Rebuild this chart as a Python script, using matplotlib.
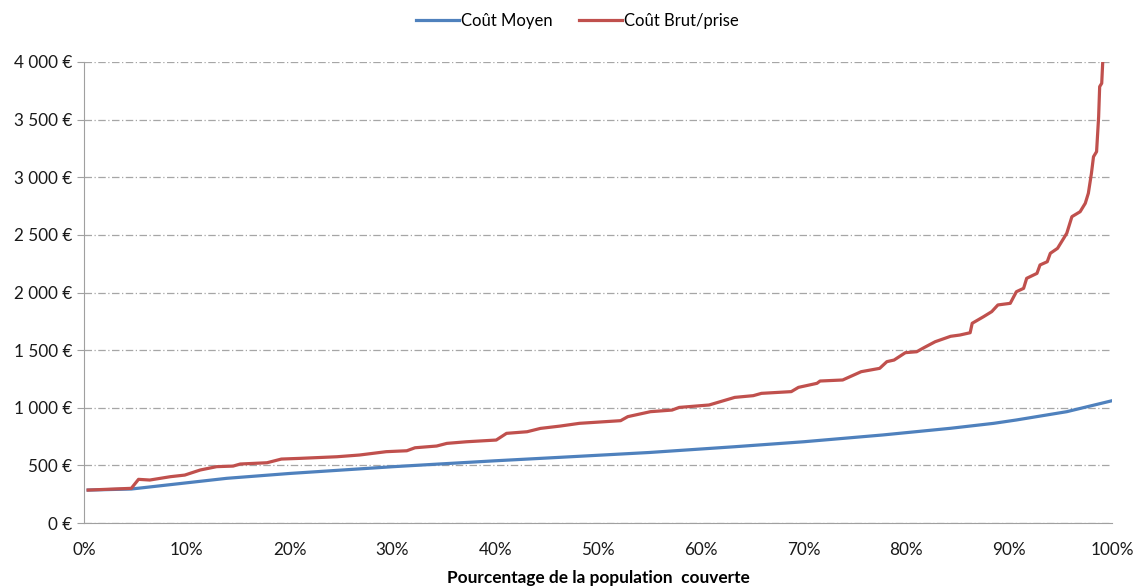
import matplotlib.pyplot as plt
from matplotlib.ticker import FuncFormatter

plt.rcParams['font.family'] = ['Lato', 'DejaVu Sans']

# Coût moyen (courbe lissée)
pct_moyen = [0.4, 4.6, 13.9, 20.0, 30.1, 40.0, 46.3, 55.0, 63.3, 70.0, 77.7, 84.3, 88.5, 90.7, 95.6, 100.0]
cout_moyen = [286, 295, 388, 430, 489, 540, 570, 612, 662, 705, 764, 822, 865, 894, 966, 1061]

# Coût brut par prise (marches)
pct_brut = [0.4, 4.6, 5.3, 6.4, 8.4, 9.8, 11.3, 12.9, 14.5, 15.2, 17.8, 19.2, 21.0, 24.6,
            26.8, 29.4, 31.4, 32.2, 34.3, 35.3, 37.2, 40.1, 41.1, 43.1, 44.4, 46.3, 48.2,
            52.2, 52.9, 55.1, 57.2, 57.9, 60.8, 61.9, 63.3, 65.1, 65.9, 68.8, 69.5, 71.3,
            71.6, 73.8, 75.6, 77.4, 78.1, 78.8, 79.9, 81.0, 81.7, 82.8, 84.3, 85.2, 86.2,
            86.4, 87.5, 88.3, 88.9, 90.1, 90.7, 91.4, 91.7, 92.7, 93.0, 93.7, 94.0, 94.7,
            95.3, 95.6, 96.1, 96.9, 97.4, 97.7, 98.0, 98.2, 98.5, 98.7, 98.8, 99.0, 99.1, 99.3]
cout_brut = [286, 301, 379, 373, 402, 416, 460, 489, 494, 512, 523, 555, 561, 575,
             590, 619, 627, 653, 668, 691, 705, 720, 778, 792, 821, 841, 865,
             888, 923, 966, 980, 1003, 1024, 1053, 1090, 1105, 1125, 1140, 1177, 1212,
             1232, 1241, 1313, 1342, 1400, 1414, 1478, 1486, 1521, 1573, 1620, 1631, 1651,
             1733, 1790, 1834, 1892, 1906, 2007, 2036, 2123, 2166, 2239, 2267, 2340, 2383,
             2470, 2514, 2658, 2701, 2774, 2861, 3034, 3178, 3222, 3525, 3786, 3815, 4003, 4400]

fig = plt.figure(figsize=(11.34, 5.88), dpi=100)
ax = fig.add_axes([0.0741, 0.1105, 0.9065, 0.7841])

ax.plot(pct_moyen, cout_moyen, color='#4F81BD', lw=2.3, label='Coût Moyen', zorder=3)
ax.plot(pct_brut, cout_brut, color='#C0504D', lw=2.3, label='Coût Brut/prise', zorder=4)

ax.set_xlim(0, 100)
ax.set_ylim(0, 4000)
ax.set_xticks(range(0, 101, 10))
ax.set_yticks(range(0, 4001, 500))
ax.xaxis.set_major_formatter(FuncFormatter(lambda v, p: f'{int(v)}%'))
ax.yaxis.set_major_formatter(FuncFormatter(lambda v, p: f'{int(v):,} €'.replace(',', ' ')))
ax.tick_params(labelsize=12.3, colors='#1a1a1a', length=5, color='#a0a0a0')
ax.tick_params(axis='x', length=0, pad=14)

ax.grid(axis='y', color='#a6a6a6', lw=0.9, linestyle=(0, (6, 2, 1, 2)))
for s in ['top', 'right']:
    ax.spines[s].set_visible(False)
for s in ['left', 'bottom']:
    ax.spines[s].set_color('#a0a0a0')

ax.set_xlabel('Pourcentage de la population  couverte', fontsize=12.4, fontweight='bold', labelpad=8)

fig.legend(loc='center', bbox_to_anchor=(0.509, 0.964), ncol=2, frameon=False,
           fontsize=12, handlelength=2.6, handletextpad=0.1, columnspacing=1.6)

fig.savefig('out.png', dpi=100)
